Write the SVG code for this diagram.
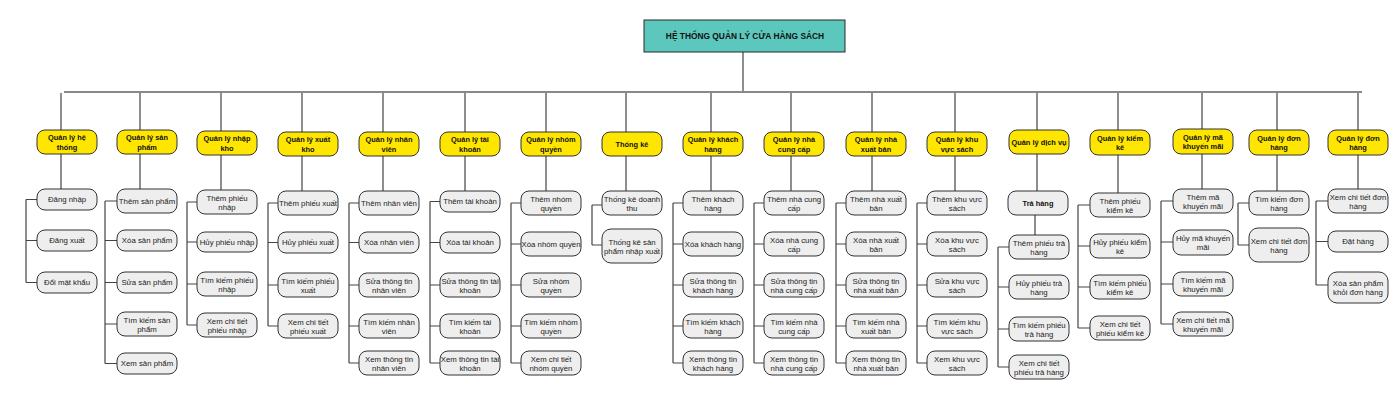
<svg xmlns="http://www.w3.org/2000/svg" width="1400" height="400" viewBox="0 0 1400 400">
<style>
.root{fill:#5CC8BD;stroke:#2b2b2b;stroke-width:1}
.cat{fill:#FFE600;stroke:#333;stroke-width:1}
.it{fill:#EEEEEE;stroke:#333;stroke-width:1}
text{font-family:"Liberation Sans",Arial,sans-serif;text-anchor:middle;fill:#222}
.t{font-size:7.8px}
.tb{font-size:7.4px;font-weight:bold;fill:#111}
.tr{font-size:8.4px;font-weight:bold;fill:#111}
.ln{stroke:#444;stroke-width:1.2;fill:none}
.bus{stroke:#888;stroke-width:2;fill:none}
</style>
<rect width="1400" height="400" fill="#ffffff"/>
<g id="connectors">
<path class="ln" d="M743 52V92"/>
<path class="bus" d="M64 92H1362"/>
<path class="ln" d="M61 93V130M140 93V130M221 93V131M302 93V132M383 93V132M465 93V132M546 93V132M626 93V132M711 93V132M791 93V132M872 93V132M955 93V132M1037 93V130M1118 93V130M1202 93V129M1277 93V130M1358 93V130"/>
<path class="ln" d="M61 154V189M140 154V189M221 155V190M302 156V191M383 156V191M465 156V191M546 156V191M626 156V191M711 156V191M791 156V191M872 156V191M955 156V191M1037 154V191M1035 215V235M1118 155V193M1202 154V189M1277 155V191M1358 155V189"/>
<path class="ln" d="M26 199.5V282.5M26 199.5H37M26 240.5H37M26 282.5H37"/>
<path class="ln" d="M105 201V363.5M105 201H117M105 240.5H117M105 282.5H117M105 324H117M105 363.5H117"/>
<path class="ln" d="M187 202V325M187 202H197M187 242H197M187 284H197M187 325H197"/>
<path class="ln" d="M268 203V326M268 203H278M268 242.5H278M268 285H278M268 326H278"/>
<path class="ln" d="M349 203V363M349 203H359M349 242.5H359M349 285H359M349 326H359M349 363H359"/>
<path class="ln" d="M430 201.5V363M430 201.5H440M430 242.5H440M430 285H440M430 326H440M430 363H440"/>
<path class="ln" d="M511 203V363M511 203H521M511 244H521M511 285H521M511 326H521M511 363H521"/>
<path class="ln" d="M592 205V245M592 205H602M592 245H602"/>
<path class="ln" d="M673 203V363M673 203H683M673 244H683M673 285H683M673 326H683M673 363H683"/>
<path class="ln" d="M754 203V363M754 203H764M754 244H764M754 285H764M754 326H764M754 363H764"/>
<path class="ln" d="M836 203V363M836 203H846M836 244H846M836 285H846M836 326H846M836 363H846"/>
<path class="ln" d="M917 203V363M917 203H927M917 244H927M917 285H927M917 326H927M917 363H927"/>
<path class="ln" d="M998 247V367M998 247H1009M998 287H1009M998 329H1009M998 367H1009"/>
<path class="ln" d="M1078 205V328M1078 205H1090M1078 246H1090M1078 287H1090M1078 328H1090"/>
<path class="ln" d="M1161 201V324M1161 201H1173M1161 242H1173M1161 284H1173M1161 324H1173"/>
<path class="ln" d="M1238 203V245M1238 203H1249M1238 245H1249"/>
<path class="ln" d="M1316 201V285M1316 201H1328M1316 241.5H1328M1316 285H1328"/>
</g>
<g id="root"><rect class="root" x="644" y="20" width="201" height="32"/><text class="tr" x="745" y="39">HỆ THỐNG QUẢN LÝ CỬA HÀNG SÁCH</text></g>

<g id="c1"><rect class="cat" x="37" y="130" width="60" height="24" rx="8"/><text class="tb" x="67"><tspan x="67" y="140">Quản lý hệ</tspan><tspan x="67" y="149.5">thống</tspan></text></g>
<g id="c1a"><rect class="it" x="37" y="189" width="60" height="21" rx="8"/><text class="t" x="67" y="202.3">Đăng nhập</text></g>
<g id="c1b"><rect class="it" x="37" y="230" width="60" height="21" rx="8"/><text class="t" x="67" y="243.3">Đăng xuất</text></g>
<g id="c1c"><rect class="it" x="37" y="272" width="60" height="21" rx="8"/><text class="t" x="67" y="285.3">Đổi mật khẩu</text></g>

<g id="c2"><rect class="cat" x="117" y="130" width="60" height="24" rx="8"/><text class="tb"><tspan x="147" y="140">Quản lý sản</tspan><tspan x="147" y="149.5">phẩm</tspan></text></g>
<g id="c2a"><rect class="it" x="117" y="189" width="60" height="24" rx="8"/><text class="t" x="147" y="203.8">Thêm sản phẩm</text></g>
<g id="c2b"><rect class="it" x="117" y="230" width="60" height="21" rx="8"/><text class="t" x="147" y="243.3">Xóa sản phẩm</text></g>
<g id="c2c"><rect class="it" x="117" y="272" width="60" height="21" rx="8"/><text class="t" x="147" y="285.3">Sửa sản phẩm</text></g>
<g id="c2d"><rect class="it" x="117" y="312" width="60" height="24" rx="8"/><text class="t"><tspan x="147" y="322.5">Tìm kiếm sản</tspan><tspan x="147" y="331.5">phẩm</tspan></text></g>
<g id="c2e"><rect class="it" x="117" y="353" width="60" height="21" rx="8"/><text class="t" x="147" y="366.3">Xem sản phẩm</text></g>

<g id="c3"><rect class="cat" x="197" y="131" width="60" height="24" rx="8"/><text class="tb"><tspan x="227" y="141">Quản lý nhập</tspan><tspan x="227" y="150.5">kho</tspan></text></g>
<g id="c3a"><rect class="it" x="197" y="190" width="60" height="24" rx="8"/><text class="t"><tspan x="227" y="200.5">Thêm phiếu</tspan><tspan x="227" y="209.5">nhập</tspan></text></g>
<g id="c3b"><rect class="it" x="197" y="232" width="60" height="20" rx="8"/><text class="t" x="227" y="244.8">Hủy phiếu nhập</text></g>
<g id="c3c"><rect class="it" x="197" y="272" width="60" height="24" rx="8"/><text class="t"><tspan x="227" y="282.5">Tìm kiếm phiếu</tspan><tspan x="227" y="291.5">nhập</tspan></text></g>
<g id="c3d"><rect class="it" x="197" y="313" width="60" height="24" rx="8"/><text class="t"><tspan x="227" y="323.5">Xem chi tiết</tspan><tspan x="227" y="332.5">phiếu nhập</tspan></text></g>

<g id="c4"><rect class="cat" x="278" y="132" width="60" height="24" rx="8"/><text class="tb"><tspan x="308" y="142">Quản lý xuất</tspan><tspan x="308" y="151.5">kho</tspan></text></g>
<g id="c4a"><rect class="it" x="278" y="191" width="60" height="24" rx="8"/><text class="t" x="308" y="205.8">Thêm phiếu xuất</text></g>
<g id="c4b"><rect class="it" x="278" y="232" width="60" height="21" rx="8"/><text class="t" x="308" y="245.3">Hủy phiếu xuất</text></g>
<g id="c4c"><rect class="it" x="278" y="273" width="60" height="24" rx="8"/><text class="t"><tspan x="308" y="283.5">Tìm kiếm phiếu</tspan><tspan x="308" y="292.5">xuất</tspan></text></g>
<g id="c4d"><rect class="it" x="278" y="314" width="60" height="24" rx="8"/><text class="t"><tspan x="308" y="324.5">Xem chi tiết</tspan><tspan x="308" y="333.5">phiếu xuất</tspan></text></g>

<g id="c5"><rect class="cat" x="359" y="132" width="60" height="24" rx="8"/><text class="tb"><tspan x="389" y="142">Quản lý nhân</tspan><tspan x="389" y="151.5">viên</tspan></text></g>
<g id="c5a"><rect class="it" x="359" y="191" width="60" height="24" rx="8"/><text class="t" x="389" y="205.8">Thêm nhân viên</text></g>
<g id="c5b"><rect class="it" x="359" y="232" width="60" height="21" rx="8"/><text class="t" x="389" y="245.3">Xóa nhân viên</text></g>
<g id="c5c"><rect class="it" x="359" y="273" width="60" height="24" rx="8"/><text class="t"><tspan x="389" y="283.5">Sửa thông tin</tspan><tspan x="389" y="292.5">nhân viên</tspan></text></g>
<g id="c5d"><rect class="it" x="359" y="314" width="60" height="24" rx="8"/><text class="t"><tspan x="389" y="324.5">Tìm kiếm nhân</tspan><tspan x="389" y="333.5">viên</tspan></text></g>
<g id="c5e"><rect class="it" x="359" y="351" width="60" height="24" rx="8"/><text class="t"><tspan x="389" y="361.5">Xem thông tin</tspan><tspan x="389" y="370.5">nhân viên</tspan></text></g>

<g id="c6"><rect class="cat" x="440" y="132" width="60" height="24" rx="8"/><text class="tb"><tspan x="470" y="142">Quản lý tài</tspan><tspan x="470" y="151.5">khoản</tspan></text></g>
<g id="c6a"><rect class="it" x="440" y="191" width="60" height="21" rx="8"/><text class="t" x="470" y="204.3">Thêm tài khoản</text></g>
<g id="c6b"><rect class="it" x="440" y="232" width="60" height="21" rx="8"/><text class="t" x="470" y="245.3">Xóa tài khoản</text></g>
<g id="c6c"><rect class="it" x="440" y="273" width="60" height="24" rx="8"/><text class="t"><tspan x="470" y="283.5">Sửa thông tin tài</tspan><tspan x="470" y="292.5">khoản</tspan></text></g>
<g id="c6d"><rect class="it" x="440" y="314" width="60" height="24" rx="8"/><text class="t"><tspan x="470" y="324.5">Tìm kiếm tài</tspan><tspan x="470" y="333.5">khoản</tspan></text></g>
<g id="c6e"><rect class="it" x="440" y="351" width="60" height="24" rx="8"/><text class="t"><tspan x="470" y="361.5">Xem thông tin tài</tspan><tspan x="470" y="370.5">khoản</tspan></text></g>

<g id="c7"><rect class="cat" x="521" y="132" width="60" height="24" rx="8"/><text class="tb"><tspan x="551" y="142">Quản lý nhóm</tspan><tspan x="551" y="151.5">quyền</tspan></text></g>
<g id="c7a"><rect class="it" x="521" y="191" width="60" height="24" rx="8"/><text class="t"><tspan x="551" y="201.5">Thêm nhóm</tspan><tspan x="551" y="210.5">quyền</tspan></text></g>
<g id="c7b"><rect class="it" x="521" y="232" width="60" height="24" rx="8"/><text class="t" x="551" y="246.8">Xóa nhóm quyền</text></g>
<g id="c7c"><rect class="it" x="521" y="273" width="60" height="24" rx="8"/><text class="t"><tspan x="551" y="283.5">Sửa nhóm</tspan><tspan x="551" y="292.5">quyền</tspan></text></g>
<g id="c7d"><rect class="it" x="521" y="314" width="60" height="24" rx="8"/><text class="t"><tspan x="551" y="324.5">Tìm kiếm nhóm</tspan><tspan x="551" y="333.5">quyền</tspan></text></g>
<g id="c7e"><rect class="it" x="521" y="351" width="60" height="24" rx="8"/><text class="t"><tspan x="551" y="361.5">Xem chi tiết</tspan><tspan x="551" y="370.5">nhóm quyền</tspan></text></g>

<g id="c8"><rect class="cat" x="602" y="132" width="60" height="24" rx="8"/><text class="tb" x="632" y="146.8">Thống kê</text></g>
<g id="c8a"><rect class="it" x="602" y="191" width="60" height="24" rx="8"/><text class="t"><tspan x="632" y="201.5">Thống kê doanh</tspan><tspan x="632" y="210.5">thu</tspan></text></g>
<g id="c8b"><rect class="it" x="602" y="229" width="60" height="34" rx="9"/><text class="t"><tspan x="632" y="244.5">Thống kê sản</tspan><tspan x="632" y="253.5">phẩm nhập xuất</tspan></text></g>

<g id="c9"><rect class="cat" x="683" y="132" width="60" height="24" rx="8"/><text class="tb"><tspan x="713" y="142">Quản lý khách</tspan><tspan x="713" y="151.5">hàng</tspan></text></g>
<g id="c9a"><rect class="it" x="683" y="191" width="60" height="24" rx="8"/><text class="t"><tspan x="713" y="201.5">Thêm khách</tspan><tspan x="713" y="210.5">hàng</tspan></text></g>
<g id="c9b"><rect class="it" x="683" y="232" width="60" height="24" rx="8"/><text class="t" x="713" y="246.8">Xóa khách hàng</text></g>
<g id="c9c"><rect class="it" x="683" y="273" width="60" height="24" rx="8"/><text class="t"><tspan x="713" y="283.5">Sửa thông tin</tspan><tspan x="713" y="292.5">khách hàng</tspan></text></g>
<g id="c9d"><rect class="it" x="683" y="314" width="60" height="24" rx="8"/><text class="t"><tspan x="713" y="324.5">Tìm kiếm khách</tspan><tspan x="713" y="333.5">hàng</tspan></text></g>
<g id="c9e"><rect class="it" x="683" y="351" width="60" height="24" rx="8"/><text class="t"><tspan x="713" y="361.5">Xem thông tin</tspan><tspan x="713" y="370.5">khách hàng</tspan></text></g>

<g id="c10"><rect class="cat" x="764" y="132" width="60" height="24" rx="8"/><text class="tb"><tspan x="794" y="142">Quản lý nhà</tspan><tspan x="794" y="151.5">cung cấp</tspan></text></g>
<g id="c10a"><rect class="it" x="764" y="191" width="60" height="24" rx="8"/><text class="t"><tspan x="794" y="201.5">Thêm nhà cung</tspan><tspan x="794" y="210.5">cấp</tspan></text></g>
<g id="c10b"><rect class="it" x="764" y="232" width="60" height="24" rx="8"/><text class="t"><tspan x="794" y="242.5">Xóa nhà cung</tspan><tspan x="794" y="251.5">cấp</tspan></text></g>
<g id="c10c"><rect class="it" x="764" y="273" width="60" height="24" rx="8"/><text class="t"><tspan x="794" y="283.5">Sửa thông tin</tspan><tspan x="794" y="292.5">nhà cung cấp</tspan></text></g>
<g id="c10d"><rect class="it" x="764" y="314" width="60" height="24" rx="8"/><text class="t"><tspan x="794" y="324.5">Tìm kiếm nhà</tspan><tspan x="794" y="333.5">cung cấp</tspan></text></g>
<g id="c10e"><rect class="it" x="764" y="351" width="60" height="24" rx="8"/><text class="t"><tspan x="794" y="361.5">Xem thông tin</tspan><tspan x="794" y="370.5">nhà cung cấp</tspan></text></g>

<g id="c11"><rect class="cat" x="846" y="132" width="60" height="24" rx="8"/><text class="tb"><tspan x="876" y="142">Quản lý nhà</tspan><tspan x="876" y="151.5">xuất bản</tspan></text></g>
<g id="c11a"><rect class="it" x="846" y="191" width="60" height="24" rx="8"/><text class="t"><tspan x="876" y="201.5">Thêm nhà xuất</tspan><tspan x="876" y="210.5">bản</tspan></text></g>
<g id="c11b"><rect class="it" x="846" y="232" width="60" height="24" rx="8"/><text class="t"><tspan x="876" y="242.5">Xóa nhà xuất</tspan><tspan x="876" y="251.5">bản</tspan></text></g>
<g id="c11c"><rect class="it" x="846" y="273" width="60" height="24" rx="8"/><text class="t"><tspan x="876" y="283.5">Sửa thông tin</tspan><tspan x="876" y="292.5">nhà xuất bản</tspan></text></g>
<g id="c11d"><rect class="it" x="846" y="314" width="60" height="24" rx="8"/><text class="t"><tspan x="876" y="324.5">Tìm kiếm nhà</tspan><tspan x="876" y="333.5">xuất bản</tspan></text></g>
<g id="c11e"><rect class="it" x="846" y="351" width="60" height="24" rx="8"/><text class="t"><tspan x="876" y="361.5">Xem thông tin</tspan><tspan x="876" y="370.5">nhà xuất bản</tspan></text></g>

<g id="c12"><rect class="cat" x="927" y="132" width="60" height="24" rx="8"/><text class="tb"><tspan x="957" y="142">Quản lý khu</tspan><tspan x="957" y="151.5">vực sách</tspan></text></g>
<g id="c12a"><rect class="it" x="927" y="191" width="60" height="24" rx="8"/><text class="t"><tspan x="957" y="201.5">Thêm khu vực</tspan><tspan x="957" y="210.5">sách</tspan></text></g>
<g id="c12b"><rect class="it" x="927" y="232" width="60" height="24" rx="8"/><text class="t"><tspan x="957" y="242.5">Xóa khu vực</tspan><tspan x="957" y="251.5">sách</tspan></text></g>
<g id="c12c"><rect class="it" x="927" y="273" width="60" height="24" rx="8"/><text class="t"><tspan x="957" y="283.5">Sửa khu vực</tspan><tspan x="957" y="292.5">sách</tspan></text></g>
<g id="c12d"><rect class="it" x="927" y="314" width="60" height="24" rx="8"/><text class="t"><tspan x="957" y="324.5">Tìm kiếm khu</tspan><tspan x="957" y="333.5">vực sách</tspan></text></g>
<g id="c12e"><rect class="it" x="927" y="351" width="60" height="24" rx="8"/><text class="t"><tspan x="957" y="361.5">Xem khu vực</tspan><tspan x="957" y="370.5">sách</tspan></text></g>

<g id="c13"><rect class="cat" x="1009" y="130" width="60" height="24" rx="8"/><text class="tb" x="1039" y="144.8">Quản lý dịch vụ</text></g>
<g id="c13t"><rect class="it" x="1008" y="191" width="60" height="24" rx="8"/><text class="tb" x="1038" y="205.8">Trả hàng</text></g>
<g id="c13a"><rect class="it" x="1009" y="235" width="60" height="24" rx="8"/><text class="t"><tspan x="1039" y="245.5">Thêm phiếu trả</tspan><tspan x="1039" y="254.5">hàng</tspan></text></g>
<g id="c13b"><rect class="it" x="1009" y="275" width="60" height="24" rx="8"/><text class="t"><tspan x="1039" y="285.5">Hủy phiếu trả</tspan><tspan x="1039" y="294.5">hàng</tspan></text></g>
<g id="c13c"><rect class="it" x="1009" y="317" width="60" height="24" rx="8"/><text class="t"><tspan x="1039" y="327.5">Tìm kiếm phiếu</tspan><tspan x="1039" y="336.5">trả hàng</tspan></text></g>
<g id="c13d"><rect class="it" x="1009" y="355" width="60" height="24" rx="8"/><text class="t"><tspan x="1039" y="365.5">Xem chi tiết</tspan><tspan x="1039" y="374.5">phiếu trả hàng</tspan></text></g>

<g id="c14"><rect class="cat" x="1090" y="130" width="60" height="25" rx="8"/><text class="tb"><tspan x="1120" y="140.5">Quản lý kiểm</tspan><tspan x="1120" y="150">kê</tspan></text></g>
<g id="c14a"><rect class="it" x="1090" y="193" width="60" height="24" rx="8"/><text class="t"><tspan x="1120" y="203.5">Thêm phiếu</tspan><tspan x="1120" y="212.5">kiểm kê</tspan></text></g>
<g id="c14b"><rect class="it" x="1090" y="234" width="60" height="24" rx="8"/><text class="t"><tspan x="1120" y="244.5">Hủy phiếu kiểm</tspan><tspan x="1120" y="253.5">kê</tspan></text></g>
<g id="c14c"><rect class="it" x="1090" y="275" width="60" height="24" rx="8"/><text class="t"><tspan x="1120" y="285.5">Tìm kiếm phiếu</tspan><tspan x="1120" y="294.5">kiểm kê</tspan></text></g>
<g id="c14d"><rect class="it" x="1090" y="316" width="60" height="24" rx="8"/><text class="t"><tspan x="1120" y="326.5">Xem chi tiết</tspan><tspan x="1120" y="335.5">phiếu kiểm kê</tspan></text></g>

<g id="c15"><rect class="cat" x="1173" y="129" width="60" height="25" rx="8"/><text class="tb"><tspan x="1203" y="139.5">Quản lý mã</tspan><tspan x="1203" y="149">khuyến mãi</tspan></text></g>
<g id="c15a"><rect class="it" x="1173" y="189" width="60" height="24" rx="8"/><text class="t"><tspan x="1203" y="199.5">Thêm mã</tspan><tspan x="1203" y="208.5">khuyến mãi</tspan></text></g>
<g id="c15b"><rect class="it" x="1173" y="230" width="60" height="25" rx="8"/><text class="t"><tspan x="1203" y="241">Hủy mã khuyến</tspan><tspan x="1203" y="250">mãi</tspan></text></g>
<g id="c15c"><rect class="it" x="1173" y="272" width="60" height="24" rx="8"/><text class="t"><tspan x="1203" y="282.5">Tìm kiếm mã</tspan><tspan x="1203" y="291.5">khuyến mãi</tspan></text></g>
<g id="c15d"><rect class="it" x="1173" y="312" width="60" height="24" rx="8"/><text class="t"><tspan x="1203" y="322.5">Xem chi tiết mã</tspan><tspan x="1203" y="331.5">khuyến mãi</tspan></text></g>

<g id="c16"><rect class="cat" x="1249" y="130" width="60" height="25" rx="8"/><text class="tb"><tspan x="1279" y="140.5">Quản lý đơn</tspan><tspan x="1279" y="150">hàng</tspan></text></g>
<g id="c16a"><rect class="it" x="1249" y="191" width="60" height="24" rx="8"/><text class="t"><tspan x="1279" y="201.5">Tìm kiếm đơn</tspan><tspan x="1279" y="210.5">hàng</tspan></text></g>
<g id="c16b"><rect class="it" x="1249" y="228" width="60" height="34" rx="9"/><text class="t"><tspan x="1279" y="243.5">Xem chi tiết đơn</tspan><tspan x="1279" y="252.5">hàng</tspan></text></g>

<g id="c17"><rect class="cat" x="1328" y="130" width="60" height="25" rx="8"/><text class="tb"><tspan x="1358" y="140.5">Quản lý đơn</tspan><tspan x="1358" y="150">hàng</tspan></text></g>
<g id="c17a"><rect class="it" x="1328" y="189" width="60" height="24" rx="8"/><text class="t"><tspan x="1358" y="199.5">Xem chi tiết đơn</tspan><tspan x="1358" y="208.5">hàng</tspan></text></g>
<g id="c17b"><rect class="it" x="1328" y="231" width="60" height="21" rx="8"/><text class="t" x="1358" y="244.3">Đặt hàng</text></g>
<g id="c17c"><rect class="it" x="1328" y="272" width="60" height="31" rx="9"/><text class="t"><tspan x="1358" y="286">Xóa sản phẩm</tspan><tspan x="1358" y="295">khỏi đơn hàng</tspan></text></g>
</svg>
